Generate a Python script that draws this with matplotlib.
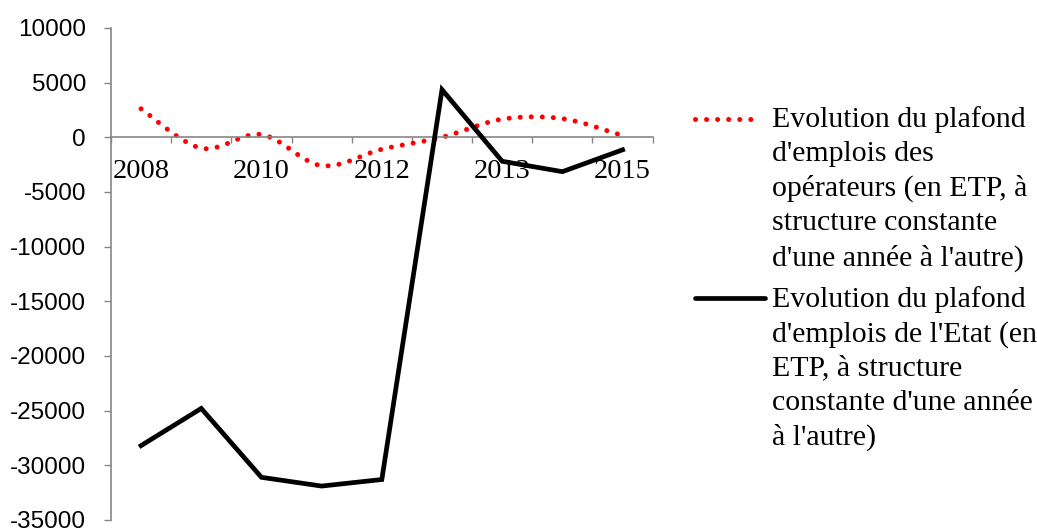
import numpy as np
import matplotlib
matplotlib.use("Agg")
import matplotlib.pyplot as plt
from matplotlib.path import Path
from matplotlib.patches import PathPatch
from matplotlib.lines import Line2D

# categories (one label out of two is shown on the axis)
years = ["2008", "2009", "2010", "2011", "2012", "2013", "2013", "2014", "2015"]
operateurs = [2600, -1000, 250, -2600, -1100, 0, 1650, 1700, 150]
etat = [-28200, -24800, -31100, -31900, -31300, 4350, -2200, -3150, -1150]

label_op = "Evolution du plafond\nd'emplois des\nopérateurs (en ETP, à\nstructure constante\nd'une année à l'autre)"
label_etat = "Evolution du plafond\nd'emplois de l'Etat (en\nETP, à structure\nconstante d'une année\nà l'autre)"

gray = "#868686"
serif = "Liberation Serif"
sans = "Liberation Sans"

fig = plt.figure(figsize=(10.37, 5.28), dpi=100)
ax = fig.add_axes([0.107, 0.0152, 0.5224, 0.932])

x = np.arange(len(years))


def smooth_path(xs, ys):
    # excel-like smoothed line: cubic bezier through every point
    pts = np.column_stack([xs, ys]).astype(float)
    ext = np.vstack([pts[0], pts, pts[-1]])
    verts = [pts[0]]
    codes = [Path.MOVETO]
    for i in range(len(pts) - 1):
        p0, p1, p2, p3 = ext[i], ext[i + 1], ext[i + 2], ext[i + 3]
        verts += [p1 + (p2 - p0) / 6, p2 - (p3 - p1) / 6, p2]
        codes += [Path.CURVE4] * 3
    return Path(verts, codes)


red_style = dict(color="red", lw=3.6, linestyle=(0, (0.01, 2.2)))
ax.add_patch(PathPatch(smooth_path(x, operateurs), fill=False, capstyle="round",
                       edgecolor="red", lw=3.6, linestyle=(0, (0.01, 2.2)), zorder=2))
ax.plot(x, etat, color="black", lw=3.4, solid_joinstyle="miter", zorder=3)

ax.set_xlim(-0.5, len(years) - 0.5)
ax.set_ylim(-35000, 10000)
ax.set_yticks(np.arange(-35000, 10001, 5000))
ax.set_yticklabels([str(v) for v in range(-35000, 10001, 5000)])

ax.set_xticks(np.arange(-0.5, len(years), 1.0))
ax.set_xticklabels([])
ax.set_xticks(x[::2], minor=True)
ax.set_xticklabels(years[::2], minor=True)
ax.tick_params(axis="x", which="major", direction="out", length=4.5, color=gray, width=1)
ax.tick_params(axis="x", which="minor", length=0, pad=16,
               labelsize=20.5, labelfontfamily=serif)
ax.tick_params(axis="y", direction="out", length=5, color=gray, width=1, pad=13,
               labelsize=17.5, labelfontfamily=sans)

for s in ["top", "right"]:
    ax.spines[s].set_visible(False)
ax.spines["bottom"].set_position(("data", 0))
for s in ["bottom", "left"]:
    ax.spines[s].set_color(gray)
    ax.spines[s].set_linewidth(1.2)

# legend, laid out the way excel does it (handle next to the first line)
W, H = 1037.0, 528.0
fig.add_artist(Line2D([695 / W, 760 / W], [1 - 119 / H, 1 - 119 / H],
                      solid_capstyle="round", dash_capstyle="round", **red_style))
fig.add_artist(Line2D([695 / W, 765 / W], [1 - 298 / H, 1 - 298 / H],
                      color="black", lw=3.4, solid_capstyle="round"))
fig.text(772 / W, 1 - 106 / H, label_op, fontfamily=serif, fontsize=21.5,
         va="top", ha="left", linespacing=1.39)
fig.text(772 / W, 1 - 286 / H, label_etat, fontfamily=serif, fontsize=21.5,
         va="top", ha="left", linespacing=1.39)

fig.savefig("out.png", dpi=100)
